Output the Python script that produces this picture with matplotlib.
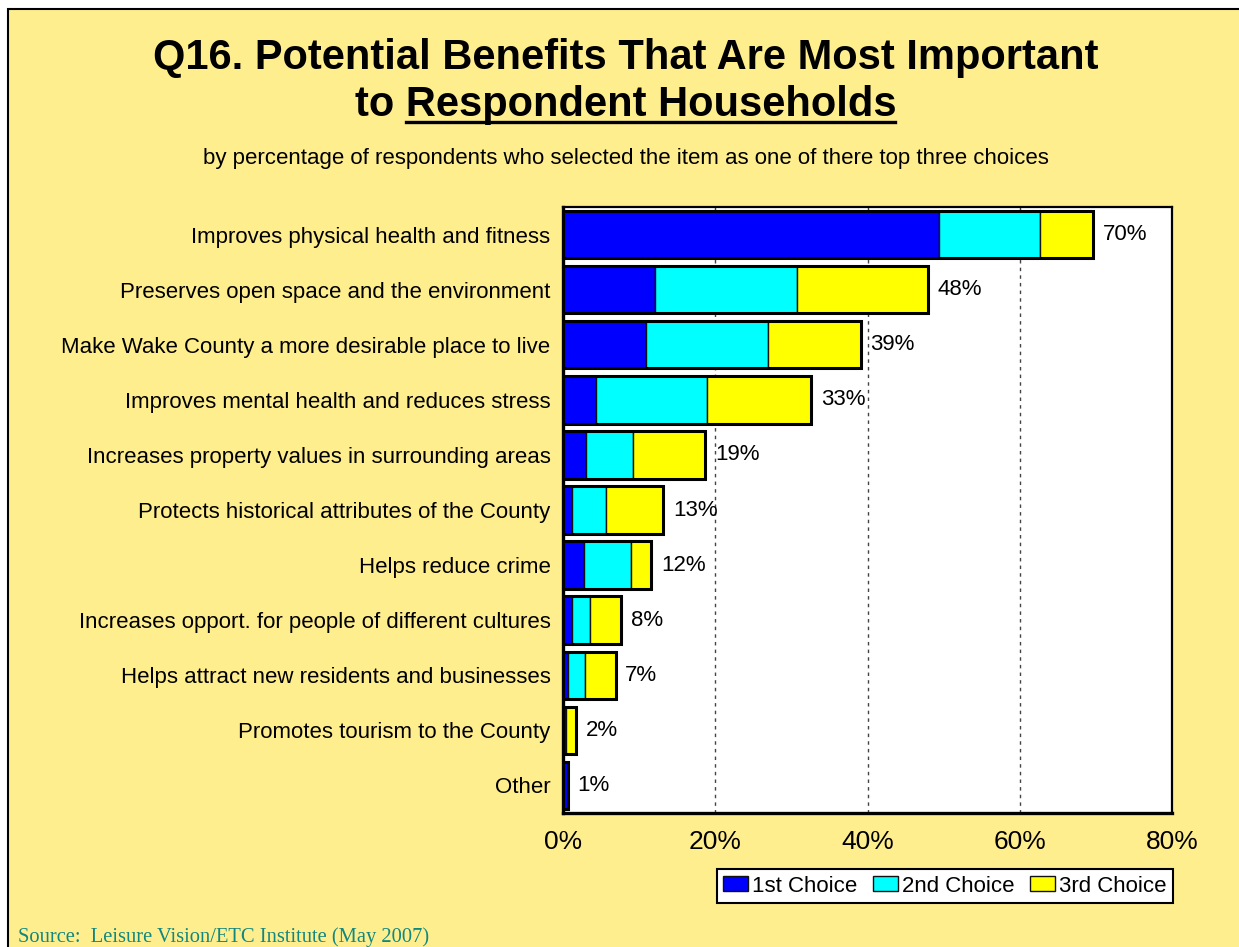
import matplotlib
matplotlib.use("Agg")
import matplotlib.pyplot as plt
from matplotlib.patches import Rectangle
import numpy as np

plt.rcParams['font.family'] = ['Liberation Sans', 'DejaVu Sans']

# survey results, share of respondents (%) per benefit
benefits = [
    "Improves physical health and fitness",
    "Preserves open space and the environment",
    "Make Wake County a more desirable place to live",
    "Improves mental health and reduces stress",
    "Increases property values in surrounding areas",
    "Protects historical attributes of the County",
    "Helps reduce crime",
    "Increases opport. for people of different cultures",
    "Helps attract new residents and businesses",
    "Promotes tourism to the County",
    "Other",
]
first_choice = [49.4, 12.1, 10.9, 4.4, 3.0, 1.2, 2.8, 1.2, 0.7, 0.3, 0.6]
second_choice = [13.2, 18.7, 16.0, 14.5, 6.2, 4.4, 6.1, 2.4, 2.2, 0.1, 0.0]
third_choice = [7.0, 17.1, 12.2, 13.7, 9.5, 7.6, 2.7, 4.0, 4.0, 1.3, 0.0]

xticks = [0, 20, 40, 60, 80]
series_names = ["1st Choice", "2nd Choice", "3rd Choice"]
series_colors = ["#0000FF", "#00FFFF", "#FFFF00"]

W, H = 1239, 947
fig = plt.figure(figsize=(W / 100, H / 100), dpi=100, facecolor="white")

# yellow slide panel with black top/left edge
fig.patches.append(Rectangle((7.5 / W, -0.05), 1.2, (H - 8.5) / H + 0.05,
                             transform=fig.transFigure, facecolor="#FFEE8E",
                             edgecolor="black", linewidth=1.5, zorder=-1))

ax = fig.add_axes([563 / W, 1 - 813 / H, (1172 - 563) / W, (813 - 207) / H])
ax.set_facecolor("white")
ax.set_zorder(2)

y = np.arange(len(benefits))
first = np.array(first_choice)
second = np.array(second_choice)
third = np.array(third_choice)
totals = first + second + third
h = 0.86

left = np.zeros(len(benefits))
for vals, name, col in zip([first, second, third], series_names, series_colors):
    ax.barh(y, vals, height=h, left=left, color=col, edgecolor="#111111",
            linewidth=1.0, label=name, zorder=3)
    left = left + vals
# heavier outline round each stacked bar
ax.barh(y, totals, height=h, fill=False, edgecolor="black", linewidth=2.2, zorder=4)

for yi, tot in zip(y, totals):
    ax.annotate(f"{tot:.0f}%", xy=(tot, yi), xytext=(7, 0), textcoords="offset points",
                va="center", ha="left", fontsize=16, zorder=5)

ax.set_xlim(0, 80)
ax.set_ylim(len(benefits) - 0.5, -0.5)
ax.set_xticks(xticks)
ax.set_xticklabels([f"{t}%" for t in xticks], fontsize=19)
ax.set_yticks(y)
ax.set_yticklabels(benefits, fontsize=16)
ax.tick_params(axis="both", length=0)
ax.tick_params(axis="x", pad=12)
ax.tick_params(axis="y", pad=9)

for gx in xticks[1:-1]:
    ax.axvline(gx, color="#444444", linestyle=(0, (2.5, 3)), linewidth=1.0, zorder=1)

for side in ["top", "right"]:
    ax.spines[side].set_linewidth(1.6)
for side in ["left", "bottom"]:
    ax.spines[side].set_linewidth(2.4)

# title, second half underlined
cx = 626 / W
fig.text(cx, 1 - 69 / H, "Q16. Potential Benefits That Are Most Important",
         ha="center", va="baseline", fontsize=30, fontweight="bold")
line2 = fig.text(cx, 1 - 116 / H, "to Respondent Households",
                 ha="center", va="baseline", fontsize=30, fontweight="bold")
part = fig.text(0, 0, "Respondent Households", fontsize=30, fontweight="bold", alpha=0)
fig.canvas.draw()
r = fig.canvas.get_renderer()
bb_full = line2.get_window_extent(r)
bb_part = part.get_window_extent(r)
part.remove()
x1 = bb_full.x1 / W - 2 / W
x0 = (bb_full.x1 - bb_part.width) / W
fig.add_artist(plt.Line2D([x0, x1], [1 - 122.5 / H] * 2, color="black", linewidth=2.4,
                          transform=fig.transFigure))

fig.text(cx, 1 - 164 / H,
         "by percentage of respondents who selected the item as one of there top three choices",
         ha="center", va="baseline", fontsize=16)

leg = fig.legend(*ax.get_legend_handles_labels(), loc="center",
                 bbox_to_anchor=(945 / W, 1 - 886 / H), ncol=3, fontsize=16,
                 frameon=True, fancybox=False, edgecolor="black", framealpha=1,
                 handlelength=1.1, handleheight=0.65, handletextpad=0.2,
                 columnspacing=0.7, borderpad=0.3, borderaxespad=0)
leg.get_frame().set_linewidth(1.5)

fig.text(18 / W, 1 - 942 / H, "Source:  Leisure Vision/ETC Institute (May 2007)",
         ha="left", va="baseline", fontsize=14.8, color="#12877E",
         family=["Liberation Serif", "DejaVu Serif"])

fig.savefig("out.png", dpi=100, facecolor=fig.get_facecolor())
